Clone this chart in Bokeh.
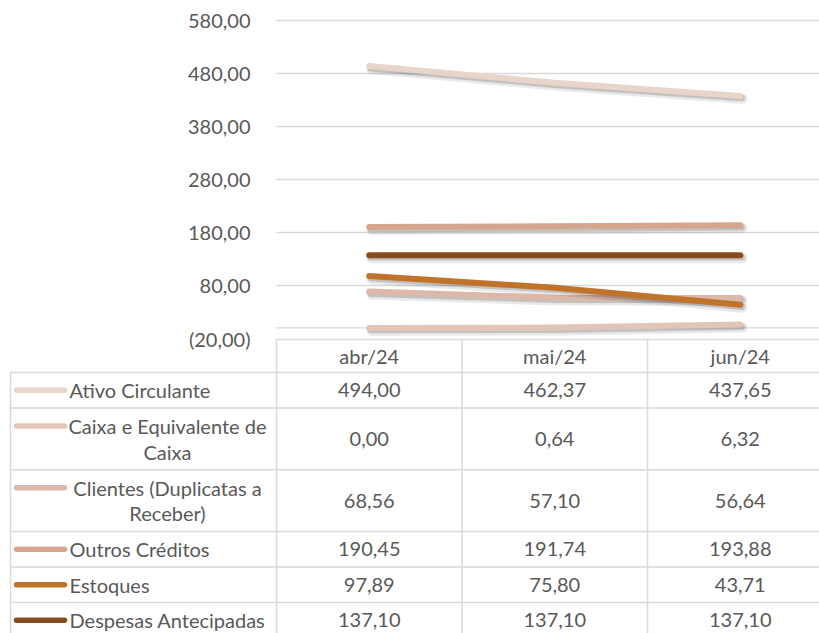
import textwrap
from bokeh.plotting import figure
from bokeh.models import Range1d, ColumnDataSource
from bokeh.transform import dodge
from bokeh.core.properties import value
from bokeh.embed import file_html
from bokeh.resources import INLINE

# ---------------- data ----------------
months = ["abr/24", "mai/24", "jun/24"]
series = [
    "Ativo Circulante",
    "Caixa e Equivalente de Caixa",
    "Clientes (Duplicatas a Receber)",
    "Outros Créditos",
    "Estoques",
    "Despesas Antecipadas",
]
ativo_circulante = [494.00, 462.37, 437.65]
caixa = [0.00, 0.64, 6.32]
clientes = [68.56, 57.10, 56.64]
outros_creditos = [190.45, 191.74, 193.88]
estoques = [97.89, 75.80, 43.71]
despesas_antecipadas = [137.10, 137.10, 137.10]
y_ticks = [-20, 80, 180, 280, 380, 480, 580]
grid_ticks = [0, 80, 180, 280, 380, 480, 580]

values = [ativo_circulante, caixa, clientes, outros_creditos, estoques, despesas_antecipadas]
colors = ["#E9D4C9", "#E3C5B8", "#DDB8A8", "#D5A68D", "#C0732B", "#844D1B"]


def fmt(v):
    s = f"{abs(v):.2f}".replace(".", ",")
    return f"({s})" if v < 0 else s


# ---------------- style / layout (page pixels) ----------------
FONT = "Lato"
FS = "20px"
TXT = "#595959"
GRID = "#D9D9D9"

W, H = 819, 633
PX0, PY0 = 0, 0                  # page offset of the canvas
PX1, PY1 = PX0 + W, PY0 + H
ZERO_Y = 327.4                    # page y of value 0
PX_PER_UNIT = 0.530
COL0 = 276                        # left edge of first month column
COL_W = 185.5
HDR_TOP = 339
HDR_BOT = 372
TABLE_LEFT = 10

p = figure(
    width=W, height=H,
    x_range=Range1d(PX0, PX1),
    y_range=Range1d(PY1, PY0),
    output_backend="svg", toolbar_location=None,
    min_border=0, x_axis_location=None, y_axis_location=None,
)
p.outline_line_color = None
p.xgrid.visible = False
p.ygrid.visible = False
p.background_fill_color = "white"
p.border_fill_color = "white"

p.extra_x_ranges = {"cat": Range1d((PX0 - COL0) / COL_W, (PX1 - COL0) / COL_W)}
p.extra_y_ranges = {"val": Range1d((ZERO_Y - PY1) / PX_PER_UNIT, (ZERO_Y - PY0) / PX_PER_UNIT)}

n = len(months)
xs = [i + 0.5 for i in range(n)]
bounds = list(range(n + 1))

# value gridlines
p.segment(x0=[0] * len(grid_ticks), x1=[n] * len(grid_ticks), y0=grid_ticks, y1=grid_ticks,
          x_range_name="cat", y_range_name="val", line_color=GRID, line_width=1.3)

# y tick labels
p.text(x=[250] * len(y_ticks), y=y_ticks, text=[fmt(t) for t in y_ticks],
       y_range_name="val", text_align="right", text_baseline="middle",
       text_font=value(FONT), text_font_size=FS, text_color=TXT)

# ---------------- table ----------------
wrapped = [textwrap.wrap(s, 22) for s in series]
ROW1 = 35.5
EXTRA_LINE = 26.2
LINE_GAP = 25.7
tops = [HDR_BOT]
for lines in wrapped:
    tops.append(tops[-1] + ROW1 + (len(lines) - 1) * EXTRA_LINE)

# header top + vertical column lines
p.segment(x0=[0], x1=[n], y0=[HDR_TOP], y1=[HDR_TOP], x_range_name="cat",
          line_color=GRID, line_width=1.5)
p.segment(x0=bounds, x1=bounds, y0=[HDR_TOP] * len(bounds), y1=[PY1 + 10] * len(bounds),
          x_range_name="cat", line_color=GRID, line_width=1.5)
# body horizontal lines + left border
p.segment(x0=[TABLE_LEFT] * len(tops), x1=[PX1 + 10] * len(tops), y0=tops, y1=tops,
          line_color=GRID, line_width=1.5)
p.segment(x0=[TABLE_LEFT], x1=[TABLE_LEFT], y0=[HDR_BOT], y1=[PY1 + 10],
          line_color=GRID, line_width=1.5)

# header labels
p.text(x=xs, y=[(HDR_TOP + HDR_BOT) / 2] * n, text=months, x_range_name="cat",
       text_align="center", text_baseline="middle",
       text_font=value(FONT), text_font_size=FS, text_color=TXT)

vx_c, vy_c, vtxt = [], [], []
lx, ly, ltxt, lalign = [], [], [], []
kx0, kx1, ky, kc = [], [], [], []
for r, (lines, vals, col) in enumerate(zip(wrapped, values, colors)):
    yc = (tops[r] + tops[r + 1]) / 2
    for i, v in enumerate(vals):
        vx_c.append(xs[i])
        vy_c.append(yc)
        vtxt.append(fmt(v))
    if len(lines) == 1:
        lx.append(69); ly.append(yc); ltxt.append(lines[0]); lalign.append("left")
        ky.append(yc)
    else:
        first = yc - LINE_GAP / 2 * (len(lines) - 1)
        for k, ln in enumerate(lines):
            lx.append(167); ly.append(first + k * LINE_GAP); ltxt.append(ln); lalign.append("center")
        ky.append(first)
    kx0.append(16); kx1.append(64); kc.append(col)

p.text(x=vx_c, y=vy_c, text=vtxt, x_range_name="cat", text_align="center",
       text_baseline="middle", text_font=value(FONT), text_font_size=FS, text_color=TXT)
p.text(x=lx, y=ly, text=ltxt, text_align=lalign, text_baseline="middle",
       text_font=value(FONT), text_font_size=FS, text_color=TXT)
p.segment(x0=kx0, x1=kx1, y0=ky, y1=ky, line_color=kc, line_width=5.5, line_cap="round")

# ---------------- lines ----------------
for name, vals, col in zip(series, values, colors):
    src = ColumnDataSource(dict(x=xs, y=vals))
    kw = dict(source=src, x_range_name="cat", y_range_name="val",
              line_cap="round", line_join="round")
    p.line(x=dodge("x", 0.012), y=dodge("y", -5.5), line_color="black",
           line_alpha=0.09, line_width=10, **kw)
    p.line(x=dodge("x", 0.008), y=dodge("y", -4.0), line_color="black",
           line_alpha=0.16, line_width=6.5, **kw)
    p.line(x="x", y="y", line_color=col, line_width=6, **kw)

open("out.html", "w").write(file_html(p, INLINE))
